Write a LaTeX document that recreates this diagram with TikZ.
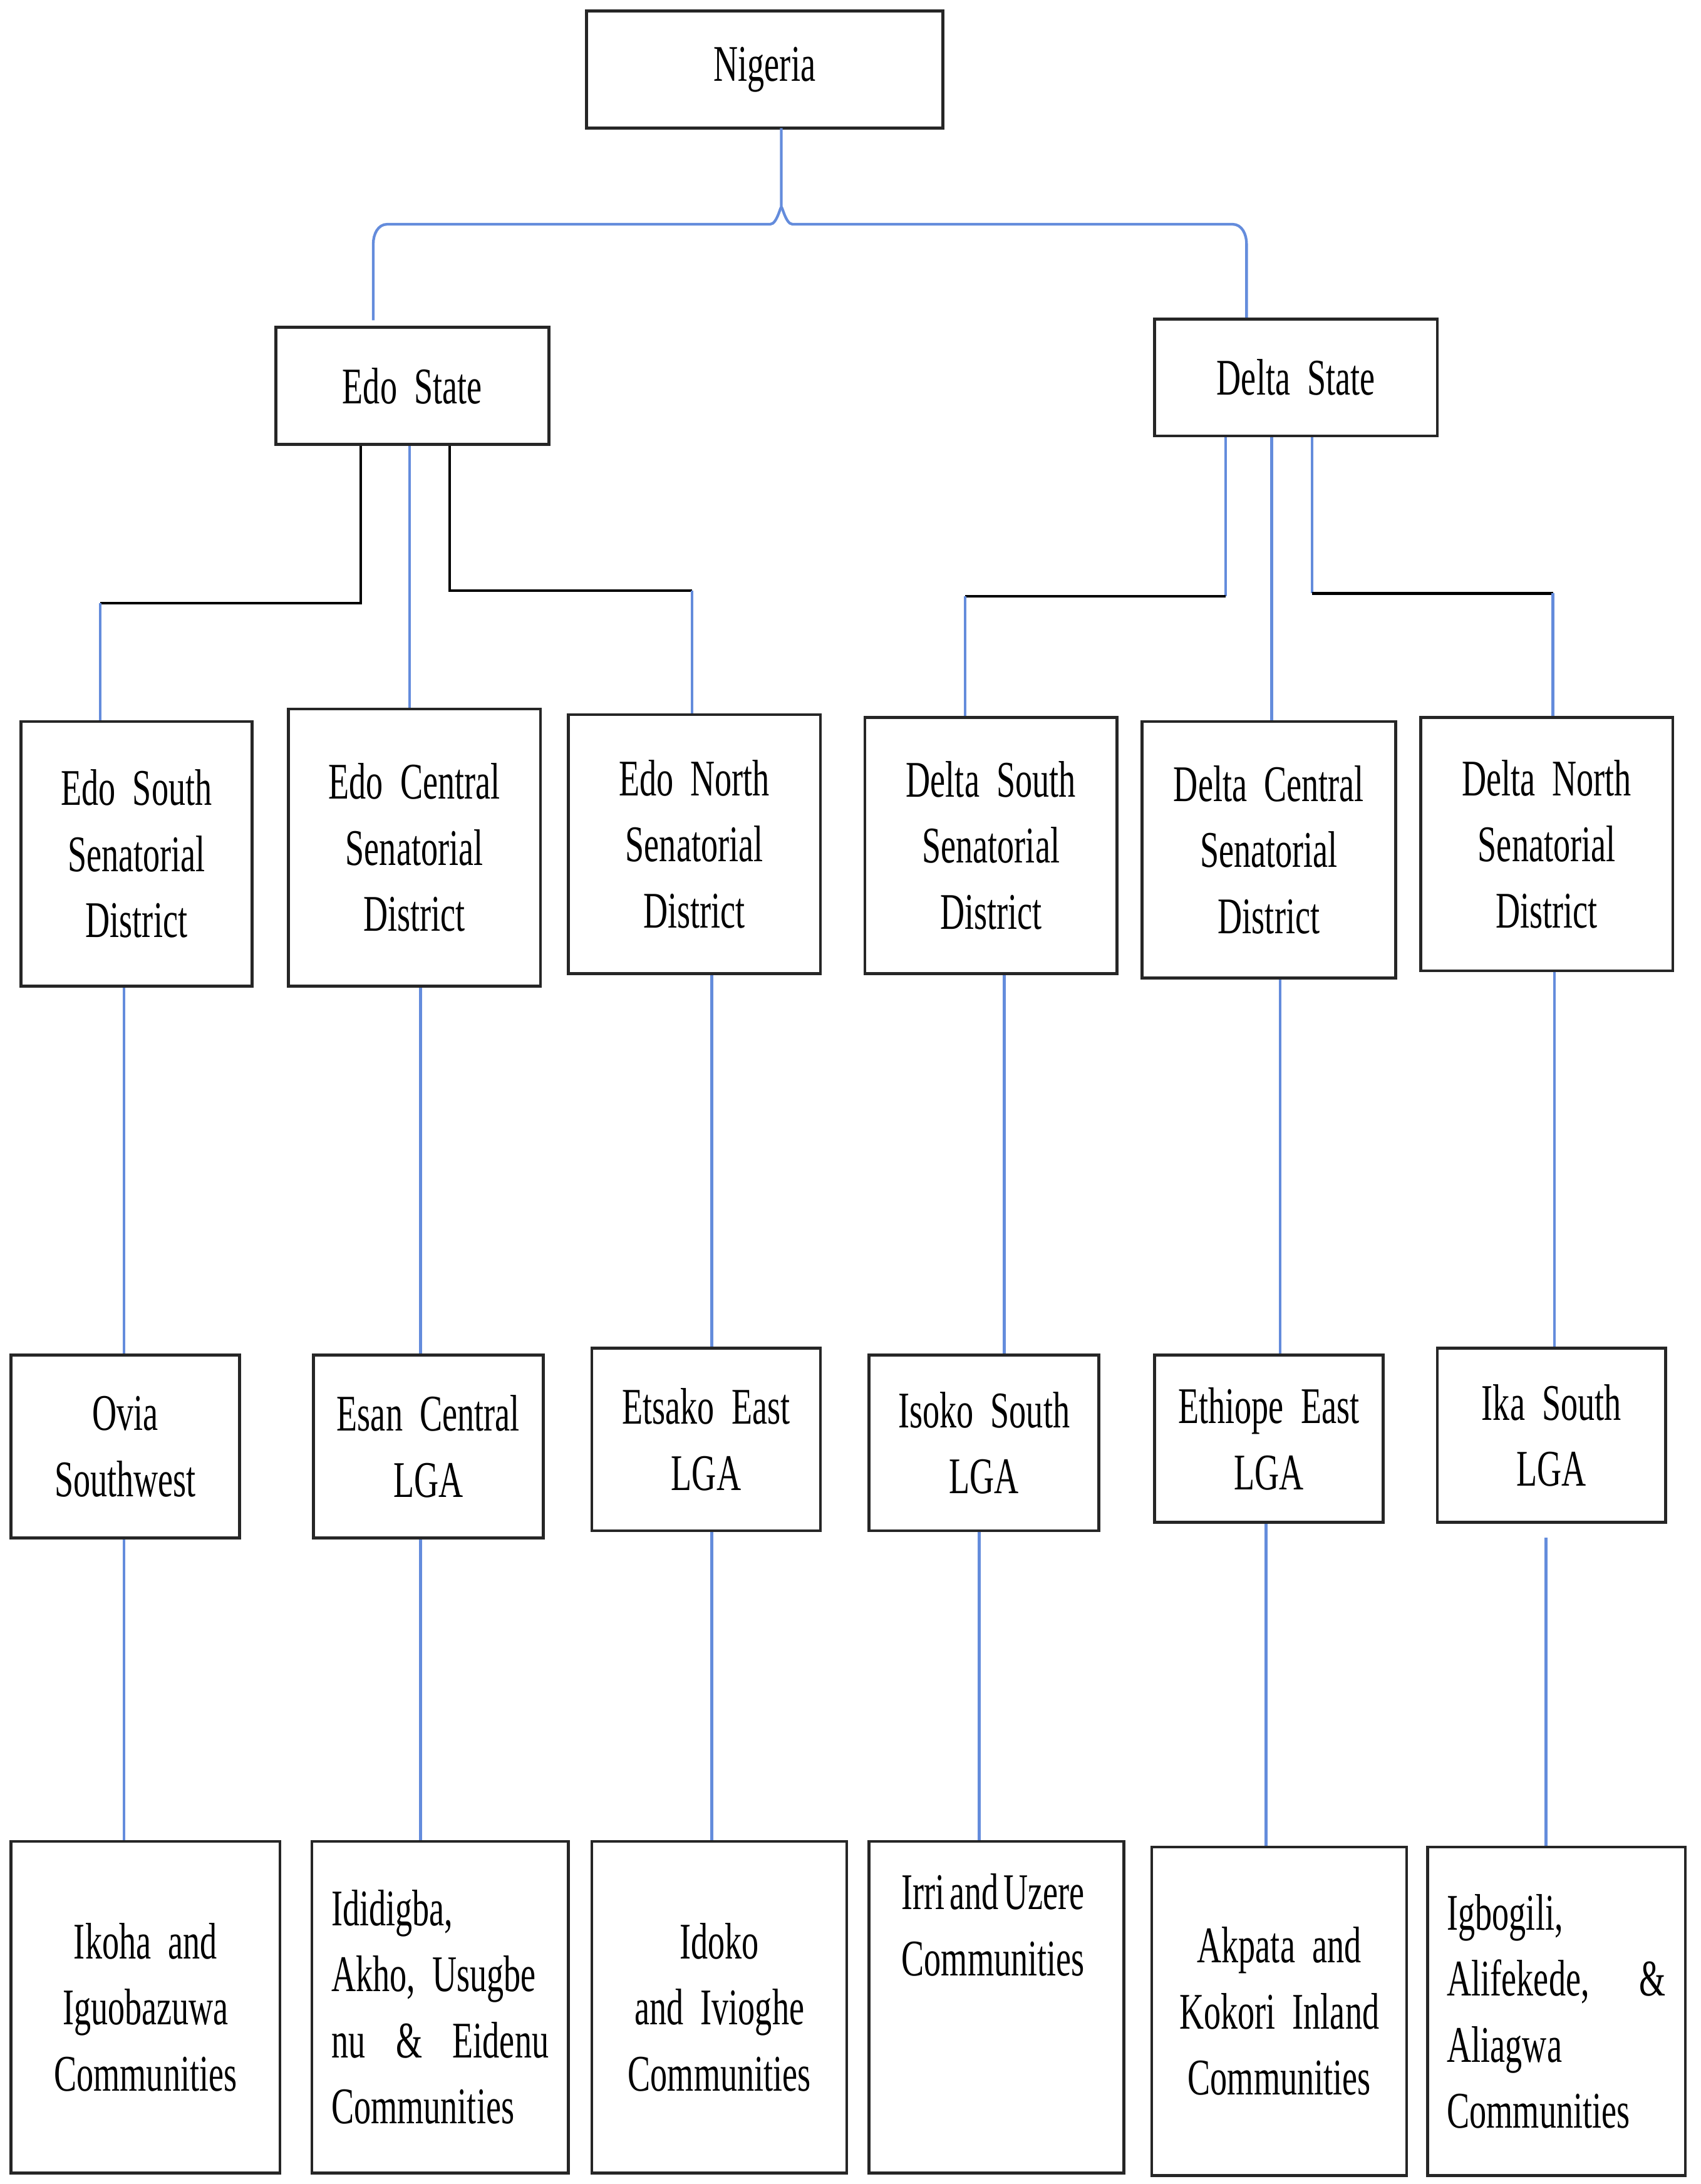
\documentclass[tikz,border=0pt]{standalone}
\usepackage{fontspec}
\setmainfont{Liberation Serif}[FakeStretch=0.66,WordSpace=0.6]
\begin{document}
\begin{tikzpicture}[x=0.02cm,y=-0.02cm,
  box/.style={draw=black!85,line width=1.2pt,inner sep=0pt},
  txt/.style={font=\fontsize{21}{27}\selectfont,inner sep=0pt},
  blue/.style={color={rgb,255:red,100;green,140;blue,220},line width=1.1pt},
  blk/.style={draw=black,line width=1.1pt}]
\useasboundingbox (0,0) rectangle (1221,1568);
\newcommand\bx[6]{\node[box,minimum width={(#4-#2)*0.02cm},minimum height={(#5-#3)*0.02cm}] (#1) at ({(#2+#4)/2},{(#3+#5)/2}) {};
  \node[txt,align=#6,text width={(#4-#2-28)*0.02cm}] (#1t) at (#1) {\hyphenpenalty=10000\csname T#1\endcsname};}
\def\Tnig{Nigeria}\def\Tedo{Edo State}\def\Tdel{Delta State}
\def\Tes{Edo South\\Senatorial\\District}\def\Tec{Edo Central\\Senatorial\\District}\def\Ten{Edo North\\Senatorial\\District}
\def\Tds{Delta South\\Senatorial\\District}\def\Tdc{Delta Central\\Senatorial\\District}\def\Tdn{Delta North\\Senatorial\\District}
\def\Tov{Ovia\\Southwest}\def\Tesa{Esan Central\\LGA}\def\Tets{Etsako East\\LGA}\def\Tiso{Isoko South\\LGA}\def\Teth{Ethiope East\\LGA}\def\Tika{Ika South\\LGA}
\def\Tiko{Ikoha and\\Iguobazuwa\\Communities}
\def\Tidi{Ididigba,\\Akho, Usugbe\\nu \hfill \& \hfill Eidenu\\Communities}
\def\Tido{Idoko\\and Ivioghe\\Communities}
\def\Tirr{}
\def\Takp{Akpata and\\Kokori Inland\\Communities}
\def\Tigb{Igbogili,\\Alifekede, \hfill \&\\Aliagwa\\Communities}
\bx{nig}{421}{8}{677}{92}{center}
\bx{edo}{198}{235}{394}{319}{center}
\bx{del}{829}{229}{1032}{313}{center}
\bx{es}{15}{518}{181}{708}{center}
\bx{ec}{207}{509}{388}{708}{center}
\bx{en}{408}{513}{589}{699}{center}
\bx{ds}{621}{515}{802}{699}{center}
\bx{dc}{820}{518}{1002}{702}{center}
\bx{dn}{1020}{515}{1201}{697}{center}
\bx{ov}{8}{973}{172}{1104}{center}
\bx{esa}{225}{973}{390}{1104}{center}
\bx{ets}{425}{968}{589}{1099}{center}
\bx{iso}{624}{973}{789}{1099}{center}
\bx{eth}{829}{973}{993}{1093}{center}
\bx{ika}{1032}{968}{1196}{1093}{center}
\bx{iko}{8}{1322}{201}{1560}{center}
\bx{idi}{224}{1322}{408}{1560}{left}
\bx{ido}{425}{1322}{608}{1560}{center}
\bx{irr}{624}{1322}{807}{1560}{center}
\bx{akp}{827}{1326}{1010}{1562}{center}
\bx{igb}{1025}{1326}{1210}{1562}{left}
\node[txt,align=center,anchor=north] (irrx) at (713,1345) {Irri and Uzere\\Communities};
% Nigeria brace
\draw[blue] (561,92) -- (561,150) to[out=90,in=0] (553,161) -- (278,161) to[out=180,in=90] (268,175) -- (268,230);
\draw[blue] (561,150) to[out=90,in=180] (569,161) -- (885,161) to[out=0,in=90] (895,175) -- (895,228);
% Edo
\draw[blk] (edo.south -| 259,0) -- (259,433) -- (72,433);
\draw[blue] (72,433) -- (es.north -| 72,0);
\draw[blue] (edo.south -| 294,0) -- (ec.north -| 294,0);
\draw[blk] (edo.south -| 323,0) -- (323,424) -- (497,424);
\draw[blue] (497,424) -- (en.north -| 497,0);
% Delta
\draw[blue] (del.south -| 880,0) -- (880,428);
\draw[blk] (880,428) -- (693,428);
\draw[blue] (693,428) -- (ds.north -| 693,0);
\draw[blue] (del.south -| 913,0) -- (dc.north -| 913,0);
\draw[blue] (del.south -| 942,0) -- (942,426);
\draw[blk] (942,426) -- (1115,426);
\draw[blue] (1115,426) -- (dn.north -| 1115,0);
% verticals
\draw[blue] (es.south -| 89,0) -- (ov.north -| 89,0);
\draw[blue] (ec.south -| 302,0) -- (esa.north -| 302,0);
\draw[blue] (en.south -| 511,0) -- (ets.north -| 511,0);
\draw[blue] (ds.south -| 721,0) -- (iso.north -| 721,0);
\draw[blue] (dc.south -| 919,0) -- (eth.north -| 919,0);
\draw[blue] (dn.south -| 1116,0) -- (ika.north -| 1116,0);
\draw[blue] (ov.south -| 89,0) -- (iko.north -| 89,0);
\draw[blue] (esa.south -| 302,0) -- (idi.north -| 302,0);
\draw[blue] (ets.south -| 511,0) -- (ido.north -| 511,0);
\draw[blue] (iso.south -| 703,0) -- (irr.north -| 703,0);
\draw[blue] (eth.south -| 909,0) -- (akp.north -| 909,0);
\coordinate (ikab) at (1110,1104);
\draw[blue] (ikab) -- (igb.north -| 1110,0);
\end{tikzpicture}
\end{document}
